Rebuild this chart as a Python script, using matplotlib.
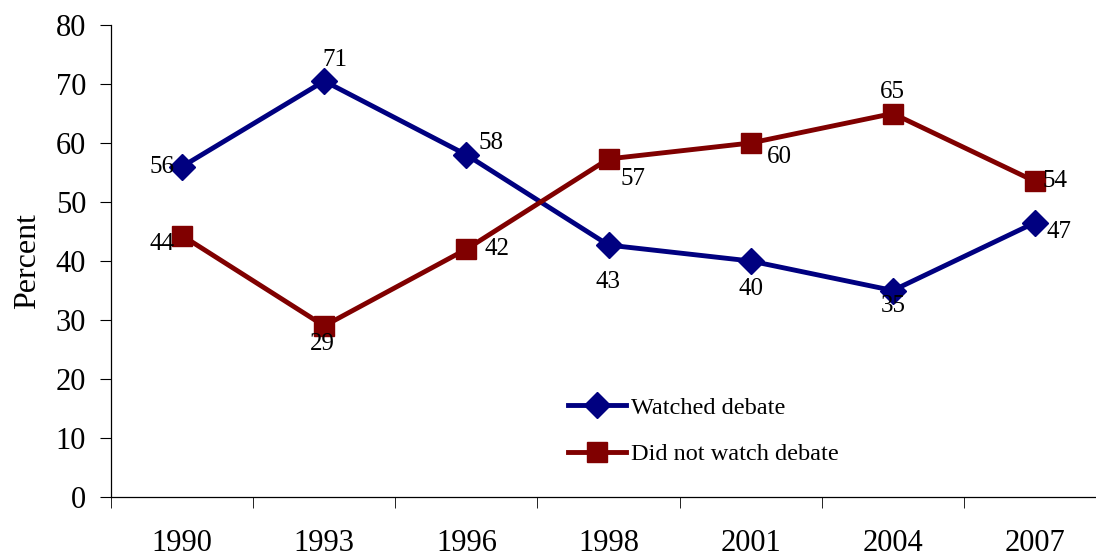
import matplotlib.pyplot as plt
from matplotlib.ticker import FixedLocator

plt.rcParams['font.family'] = ['Liberation Serif', 'DejaVu Serif']

# chart data
years = ["1990", "1993", "1996", "1998", "2001", "2004", "2007"]
watched = [56, 70.5, 58, 42.7, 40, 35, 46.5]
not_watched = [44.3, 29, 42, 57.3, 60, 65, 53.5]
watched_labels = ["56", "71", "58", "43", "40", "35", "47"]
not_watched_labels = ["44", "29", "42", "57", "60", "65", "54"]

# label placement (pixel offsets from each point, Excel-style)
watched_off = [(-8, 0, "right"), (-2, 21, "left"), (12, 12, "left"), (0, -37, "center"),
               (0, -28, "center"), (0, -16, "center"), (12, -9, "left")]
not_watched_off = [(-8, -8, "right"), (-2, -18, "center"), (18, 0, "left"), (12, -20, "left"),
                   (16, -14, "left"), (0, 22, "center"), (8, 0, "left")]

blue = "#000080"
red = "#800000"

fig = plt.figure(figsize=(10.96, 5.59), dpi=100)
ax = fig.add_axes([111 / 1096, 62 / 559, 995 / 1096, 472 / 559])

x = list(range(len(years)))
ax.plot(x, watched, color=blue, lw=3.5, marker="D", ms=13, label="Watched debate")
ax.plot(x, not_watched, color=red, lw=3.5, marker="s", ms=14, label="Did not watch debate")

for xs, ys, labs, offs in [(x, watched, watched_labels, watched_off),
                           (x, not_watched, not_watched_labels, not_watched_off)]:
    for xi, yi, lab, (dx, dy, ha) in zip(xs, ys, labs, offs):
        ax.annotate(lab, (xi, yi), xytext=(dx, dy), textcoords="offset pixels",
                    ha=ha, va="center", fontsize=18)

ax.set_xlim(-0.5, len(years) - 0.5)
ax.set_ylim(0, 80)
ax.set_yticks(range(0, 81, 10))
ax.set_xticks(x)
ax.set_xticklabels(years)
ax.xaxis.set_minor_locator(FixedLocator([i - 0.5 for i in range(len(years) + 1)]))
ax.tick_params(axis="x", which="major", length=0, pad=23, labelsize=22)
ax.tick_params(axis="x", which="minor", length=8, direction="out")
ax.tick_params(axis="y", length=8, pad=10, labelsize=22)
ax.set_ylabel("Percent", fontsize=23, labelpad=10)

for s in ["top", "right"]:
    ax.spines[s].set_visible(False)
for s in ["left", "bottom"]:
    ax.spines[s].set_linewidth(0.9)

ax.legend(loc="upper left", bbox_to_anchor=(546 / 1096, 1 - 375 / 559), bbox_transform=fig.transFigure,
          frameon=False, fontsize=17.5, handlelength=2.4, handletextpad=0.2, labelspacing=1.0)

fig.savefig("out.png", dpi=100)
